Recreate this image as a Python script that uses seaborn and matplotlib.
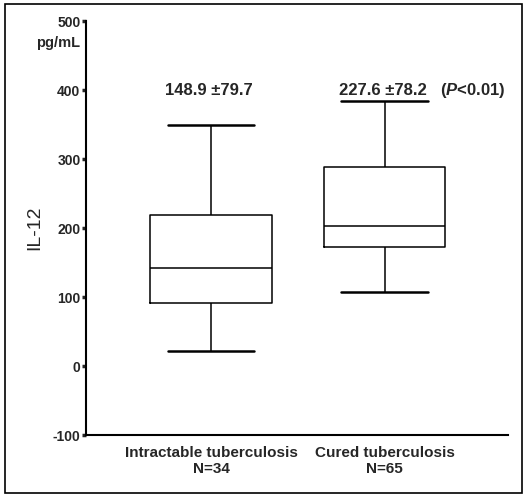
import numpy as np
import pandas as pd
import seaborn as sns
import matplotlib.pyplot as plt
from matplotlib.patches import Rectangle

# five-number summaries (min, Q1, median, Q3, max)
groups = ['Intractable tuberculosis\nN=34', 'Cured tuberculosis\nN=65']
intractable = [22, 92, 142, 219, 349]
cured = [107, 172, 203, 288, 384]
mean_labels = ['148.9 \u00b179.7', '227.6 \u00b178.2']
p_label = '($\\it{P}$<0.01)'
yticks = [-100, 0, 100, 200, 300, 400, 500]

df = pd.DataFrame({
    'group': [groups[0]] * len(intractable) + [groups[1]] * len(cured),
    'IL12': intractable + cured,
})

sns.set_style('white')
plt.rcParams['font.family'] = ['Liberation Sans', 'DejaVu Sans']
plt.rcParams['mathtext.fontset'] = 'custom'
plt.rcParams['mathtext.it'] = 'Liberation Sans:italic:bold'

fig = plt.figure(figsize=(5.29, 4.97), dpi=100)
ax = fig.add_axes([0.1626, 0.1247, 0.7974, 0.833])

line = dict(color='black', linewidth=1.1)
sns.boxplot(data=df, x='group', y='IL12', order=groups, whis=(0, 100),
            width=0.7, fill=False, color='black', linewidth=1.1,
            boxprops=line, whiskerprops=line, medianprops=line,
            capprops=dict(color='black', linewidth=1.8),
            capwidths=0.5, showfliers=False, ax=ax)

ax.set_xlim(-0.72, 1.71)
ax.set_ylim(-100, 500)
ax.set_yticks(yticks)
ax.set_yticklabels([str(t) for t in yticks], fontsize=10, fontweight='bold')
ax.tick_params(axis='y', left=True, direction='out', length=3, width=2.5, pad=1)
ax.tick_params(axis='x', length=0, pad=8)
for lab in ax.get_xticklabels():
    lab.set_fontsize(11)
    lab.set_fontweight('bold')
ax.set_xlabel('')
ax.set_ylabel('IL-12', fontsize=14, labelpad=7)

for s in ['top', 'right']:
    ax.spines[s].set_visible(False)
for s in ['left', 'bottom']:
    ax.spines[s].set_linewidth(1.5)
    ax.spines[s].set_color('black')

ax.text(-0.015, 468, 'pg/mL', ha='right', va='center', fontsize=10.5,
        fontweight='bold', transform=ax.get_yaxis_transform())

for i, lab in enumerate(mean_labels):
    ax.text(i - 0.01, 400, lab, ha='center', va='center', fontsize=12,
            fontweight='bold')
ax.text(1.51, 400, p_label, ha='center', va='center', fontsize=12,
        fontweight='bold')

# outer frame around the whole figure
fig.patches.append(Rectangle((0.009, 0.008), 0.978, 0.984, fill=False,
                             edgecolor='black', linewidth=1.2,
                             transform=fig.transFigure, figure=fig))

fig.savefig('out.png', dpi=100)
